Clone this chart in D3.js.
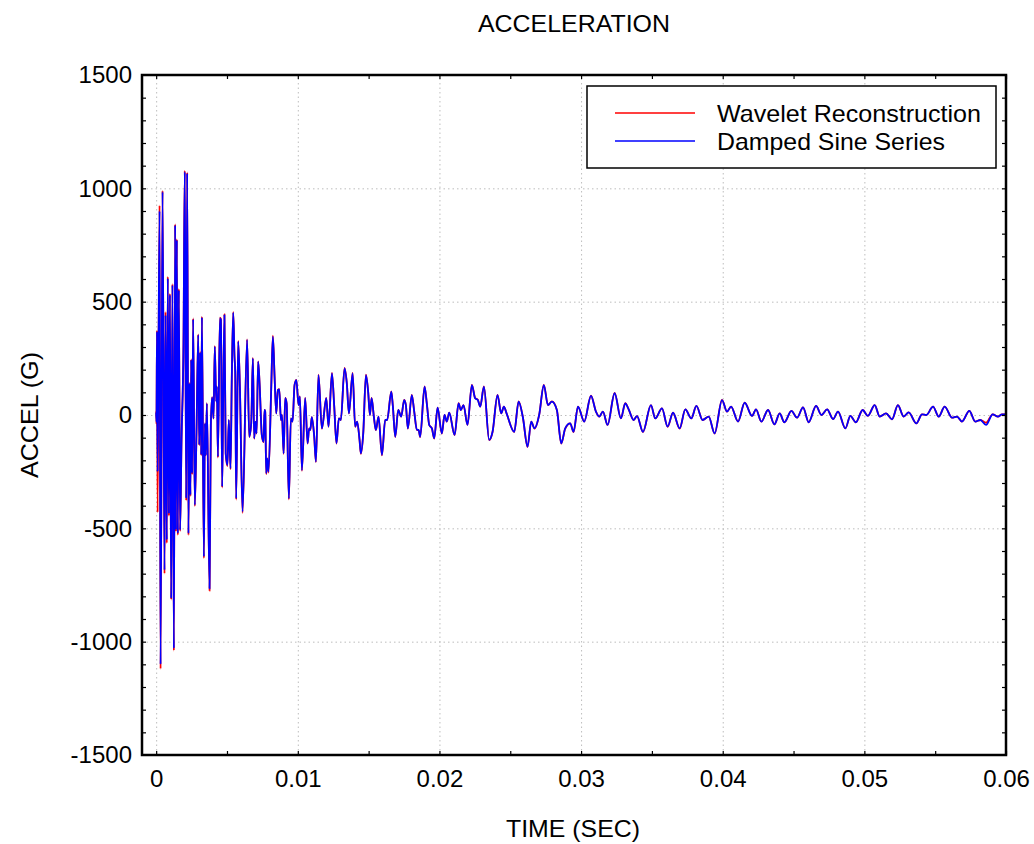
<!DOCTYPE html>
<html>
<head>
<meta charset="utf-8">
<script src="https://cdn.jsdelivr.net/npm/d3@7"></script>
<style>
  body { margin: 0; background: #fff; }
  svg { display: block; font-family: "Liberation Sans", Arial, sans-serif; }
  .grid line { stroke: #bdbdbd; stroke-width: 1; stroke-dasharray: 1.5,3; }
  .grid path { display: none; }
</style>
</head>
<body>
<svg id="chart" width="1034" height="844"></svg>
<script>
// time in milliseconds (converted to seconds for the x scale)
var timeMs = [
  0.00, 0.02, 0.06, 0.10, 0.24, 0.31, 0.45, 0.59, 0.66, 0.75,
  0.82, 0.90, 0.97, 1.06, 1.15, 1.25, 1.34, 1.40, 1.46, 1.53,
  1.60, 1.69, 1.79, 1.93, 2.02, 2.12, 2.19, 2.28, 2.35, 2.42,
  2.47, 2.54, 2.61, 2.73, 2.85, 2.97, 3.04, 3.11, 3.18, 3.23,
  3.37, 3.44, 3.51, 3.58, 3.77, 3.86, 3.95, 4.05, 4.14, 4.24,
  4.29, 4.36, 4.50, 4.57, 4.66, 4.73, 4.82, 4.91, 5.03, 5.13,
  5.25, 5.34, 5.44, 5.53, 5.58, 5.65, 5.79, 5.91, 6.10, 6.42,
  6.57, 6.71, 6.83, 6.92, 7.01, 7.09, 7.20, 7.30, 7.46, 7.58,
  7.65, 7.70, 7.77, 7.84, 7.93, 8.12, 8.24, 8.36, 8.48, 8.59,
  8.69, 8.81, 8.88, 9.00, 9.11, 9.21, 9.37, 9.51, 9.63, 9.77,
  9.90, 10.05, 10.15, 10.29, 10.52, 10.69, 10.80, 10.88, 10.99, 11.16,
  11.28, 11.46, 11.70, 12.01, 12.17, 12.41, 12.57, 12.73, 12.90, 13.04,
  13.30, 13.46, 13.61, 13.87, 14.05, 14.19, 14.36, 14.45, 14.62, 14.81,
  14.97, 15.09, 15.21, 15.37, 15.51, 15.70, 15.94, 16.17, 16.31, 16.60,
  16.71, 16.88, 17.09, 17.30, 17.51, 17.63, 17.77, 18.05, 18.22, 18.41,
  18.53, 18.64, 18.95, 19.11, 19.28, 19.47, 19.63, 19.87, 20.17, 20.36,
  20.52, 20.69, 21.07, 21.35, 21.51, 21.70, 21.98, 22.29, 22.52, 22.71,
  22.88, 23.14, 23.51, 23.75, 24.10, 24.36, 24.55, 24.74, 25.28, 25.59,
  25.89, 26.22, 26.48, 26.71, 27.04, 27.37, 27.66, 27.94, 28.29, 28.60,
  28.88, 29.23, 29.47, 29.78, 30.22, 30.70, 31.05, 31.28, 31.54, 31.87,
  32.37, 32.81, 33.12, 33.36, 33.71, 33.95, 34.37, 34.93, 35.24, 35.71,
  36.11, 36.49, 36.96, 37.36, 37.78, 38.14, 38.58, 39.01, 39.43, 39.95,
  40.30, 40.59, 41.08, 41.55, 42.07, 42.35, 42.73, 43.20, 43.65, 44.02,
  44.35, 44.85, 45.25, 45.67, 46.07, 46.59, 46.97, 47.37, 47.79, 48.14,
  48.66, 49.01, 49.40, 49.88, 50.25, 50.73, 51.08, 51.53, 51.95, 52.37,
  52.77, 53.13, 53.67, 54.07, 54.37, 54.85, 55.25, 55.67, 56.19, 56.54,
  56.89, 57.41, 57.83, 58.19, 58.59, 59.06, 59.43, 59.72, 60.00
];

// Damped Sine Series (blue)
var dampedSine = [
  10, -30, 368, -250, 900, -1100, 985, -684, 441, -551,
  603, -435, 530, -809, 573, -1030, 838, -507, 772, -522,
  551, -507, -110, 316, 1073, -368, 1066, -522, 140, -353,
  243, -257, 422, -397, -66, 353, -132, 275, -176, 431,
  -625, -37, -176, 51, -765, -44, 78, -15, 301, 59,
  125, -184, 426, 420, -316, 66, 441, -169, -221, -22,
  -235, 162, 451, 257, 191, -368, 324, 125, -426, 331,
  -96, -37, 250, -103, -29, -81, 235, 140, -88, -118,
  22, 15, -257, -191, -250, 110, 346, 169, 7, 110,
  113, -22, 0, -169, 74, 51, -368, -15, -29, 132,
  154, 44, 81, -243, 74, -125, -59, -66, -10, -96,
  -206, 176, -59, 74, -51, 184, 40, -125, -15, -22,
  206, 140, 7, 184, -51, -29, -110, -169, -80, 176,
  100, 0, 74, -7, -66, -7, -176, -22, -22, 103,
  40, -96, 22, -7, 66, 44, -59, 88, 15, -66,
  -66, -96, 125, 50, -44, -59, -103, 32, -81, 0,
  -29, 10, -88, 51, 22, 44, -44, 132, 74, 66,
  37, 125, -110, -74, 88, 7, 37, 7, -74, 59,
  -10, -140, -29, -59, 0, 132, 44, 59, 22, -125,
  -59, -37, -74, 37, -29, 84, 15, -7, 15, -44,
  96, -15, 51, 25, -22, -5, -74, 44, -15, 29,
  -51, 10, -59, 25, -15, 40, -22, -7, -81, 66,
  15, 37, -29, 54, -4, 25, -29, 22, -41, 7,
  -32, 18, -12, 34, -32, 40, 0, 25, -18, 15,
  -59, -4, -32, 22, -4, 44, -7, 7, -19, 44,
  -7, 12, -37, 3, 0, 37, -7, 37, -12, -7,
  -29, 18, -29, -22, -44, 3, -7, 3, 3
];

// Wavelet Reconstruction (red)
var wavelet = [
  15, -40, 372, -430, 925, -1120, 990, -700, 455, -565,
  610, -445, 535, -815, 578, -1040, 842, -515, 776, -530,
  556, -512, -112, 318, 1078, -378, 1070, -530, 142, -358,
  246, -262, 426, -402, -68, 356, -134, 278, -178, 434,
  -632, -38, -178, 52, -775, -45, 79, -16, 304, 60,
  126, -188, 430, 424, -320, 67, 445, -172, -225, -23,
  -240, 164, 455, 259, 193, -374, 327, 126, -432, 334,
  -97, -38, 252, -105, -30, -82, 237, 141, -90, -120,
  22, 15, -261, -193, -254, 111, 350, 170, 7, 111,
  114, -22, 0, -171, 75, 52, -372, -15, -29, 133,
  155, 44, 82, -246, 75, -126, -60, -67, -10, -97,
  -208, 178, -60, 75, -52, 186, 40, -126, -15, -22,
  208, 141, 7, 186, -52, -29, -111, -171, -81, 178,
  101, 0, 75, -7, -67, -7, -178, -22, -22, 104,
  40, -97, 22, -7, 67, 44, -60, 89, 15, -67,
  -67, -97, 126, 50, -44, -60, -104, 32, -82, 0,
  -29, 10, -89, 52, 22, 44, -44, 133, 75, 67,
  37, 126, -111, -75, 89, 7, 37, 7, -75, 60,
  -10, -141, -29, -60, 0, 133, 44, 60, 22, -126,
  -60, -37, -75, 37, -29, 85, 15, -7, 15, -44,
  97, -15, 52, 25, -22, -5, -75, 44, -15, 29,
  -52, 10, -60, 25, -15, 40, -22, -7, -82, 67,
  15, 37, -29, 55, -4, 25, -29, 22, -41, 7,
  -32, 18, -12, 34, -32, 40, 0, 25, -18, 15,
  -59, -4, -32, 22, -4, 44, -7, 7, -19, 44,
  -7, 12, -37, 3, 0, 37, -7, 37, -12, -7,
  -29, 18, -29, -22, -34, 3, -7, 3, 3
];

var xTickValues = [0, 0.01, 0.02, 0.03, 0.04, 0.05, 0.06];
var xTickLabels = ["0", "0.01", "0.02", "0.03", "0.04", "0.05", "0.06"];
var yTickValues = [1500, 1000, 500, 0, -500, -1000, -1500];
var yTickLabels = ["1500", "1000", "500", "0", "-500", "-1000", "-1500"];
var seriesNames = ["Wavelet Reconstruction", "Damped Sine Series"];
var seriesColors = ["#ff0000", "#0000ff"];

(function() {
  var svg = d3.select("#chart");
  var pLeft = 142, pRight = 1006, pTop = 75, pBottom = 755;

  var x = d3.scaleLinear().domain([-0.001, 0.06]).range([pLeft, pRight]);
  var y = d3.scaleLinear().domain([-1500, 1500]).range([pBottom, pTop]);

  // grid
  svg.append("g").attr("class", "grid")
    .attr("transform", `translate(0,${pBottom})`)
    .call(d3.axisBottom(x).tickValues(xTickValues).tickSize(-(pBottom - pTop)).tickFormat(""));
  svg.append("g").attr("class", "grid")
    .attr("transform", `translate(${pLeft},0)`)
    .call(d3.axisLeft(y).tickValues(yTickValues.slice(1, -1)).tickSize(-(pRight - pLeft)).tickFormat(""));

  // series
  svg.append("clipPath").attr("id", "clip")
    .append("rect").attr("x", pLeft).attr("y", pTop)
    .attr("width", pRight - pLeft).attr("height", pBottom - pTop);

  var line = d3.line()
    .x((d, i) => x(timeMs[i] / 1000))
    .y(d => y(d))
    .curve(d3.curveMonotoneX);

  var plot = svg.append("g").attr("clip-path", "url(#clip)");
  [wavelet, dampedSine].forEach(function(values, k) {
    plot.append("path")
      .datum(values)
      .attr("fill", "none")
      .attr("stroke", seriesColors[k])
      .attr("stroke-width", 1.8)
      .attr("stroke-linejoin", "round")
      .attr("d", line);
  });

  // axes with inward ticks
  var minorX = d3.range(0, 0.0601, 0.005);
  var minorY = d3.range(-1400, 1500, 100);
  function styleAxis(g) {
    g.select(".domain").remove();
    g.selectAll(".tick line").attr("stroke", "#000").attr("stroke-width", 1.2);
    g.selectAll("text").attr("font-size", 24).attr("fill", "#000")
      .attr("font-family", "'Liberation Sans', Arial, sans-serif");
  }
  svg.append("g").attr("transform", `translate(0,${pBottom})`)
    .call(d3.axisBottom(x).tickValues(minorX).tickSize(-4).tickFormat("")).call(styleAxis);
  svg.append("g").attr("transform", `translate(0,${pTop})`)
    .call(d3.axisTop(x).tickValues(minorX).tickSize(-4).tickFormat("")).call(styleAxis);
  svg.append("g").attr("transform", `translate(${pLeft},0)`)
    .call(d3.axisLeft(y).tickValues(minorY).tickSize(-4).tickFormat("")).call(styleAxis);
  svg.append("g").attr("transform", `translate(${pRight},0)`)
    .call(d3.axisRight(y).tickValues(minorY).tickSize(-4).tickFormat("")).call(styleAxis);

  svg.append("g").attr("transform", `translate(0,${pBottom})`)
    .call(d3.axisBottom(x).tickValues(xTickValues).tickSize(0).tickPadding(15)
      .tickFormat((d, i) => xTickLabels[i])).call(styleAxis);
  svg.append("g").attr("transform", `translate(${pLeft},0)`)
    .call(d3.axisLeft(y).tickValues(yTickValues).tickSize(0).tickPadding(10)
      .tickFormat((d, i) => yTickLabels[i])).call(styleAxis);

  svg.append("rect")
    .attr("x", pLeft).attr("y", pTop).attr("width", pRight - pLeft).attr("height", pBottom - pTop)
    .attr("fill", "none").attr("stroke", "#000").attr("stroke-width", 2.5);

  // titles
  svg.append("text").attr("x", 574).attr("y", 32).attr("text-anchor", "middle")
    .attr("font-size", 24).attr("textLength", 192).attr("lengthAdjust", "spacingAndGlyphs")
    .text("ACCELERATION");
  svg.append("text").attr("x", 573).attr("y", 837).attr("text-anchor", "middle")
    .attr("font-size", 24).attr("textLength", 134).attr("lengthAdjust", "spacingAndGlyphs")
    .text("TIME (SEC)");
  svg.append("text").attr("transform", "translate(38,415) rotate(-90)").attr("text-anchor", "middle")
    .attr("font-size", 24).attr("textLength", 126).attr("lengthAdjust", "spacingAndGlyphs")
    .text("ACCEL (G)");

  // legend
  var legend = svg.append("g");
  legend.append("rect").attr("x", 587).attr("y", 86).attr("width", 409).attr("height", 82)
    .attr("fill", "#fff").attr("stroke", "#000").attr("stroke-width", 1.5);
  var legendWidths = [264, 228];
  seriesNames.forEach(function(name, i) {
    var ly = 113 + i * 28;
    legend.append("line").attr("x1", 615).attr("x2", 695).attr("y1", ly).attr("y2", ly)
      .attr("stroke", seriesColors[i]).attr("stroke-width", 1.5);
    legend.append("text").attr("x", 717).attr("y", ly + 8.5).attr("font-size", 24)
      .attr("textLength", legendWidths[i]).attr("lengthAdjust", "spacingAndGlyphs")
      .text(name);
  });
})();
</script>
</body>
</html>
